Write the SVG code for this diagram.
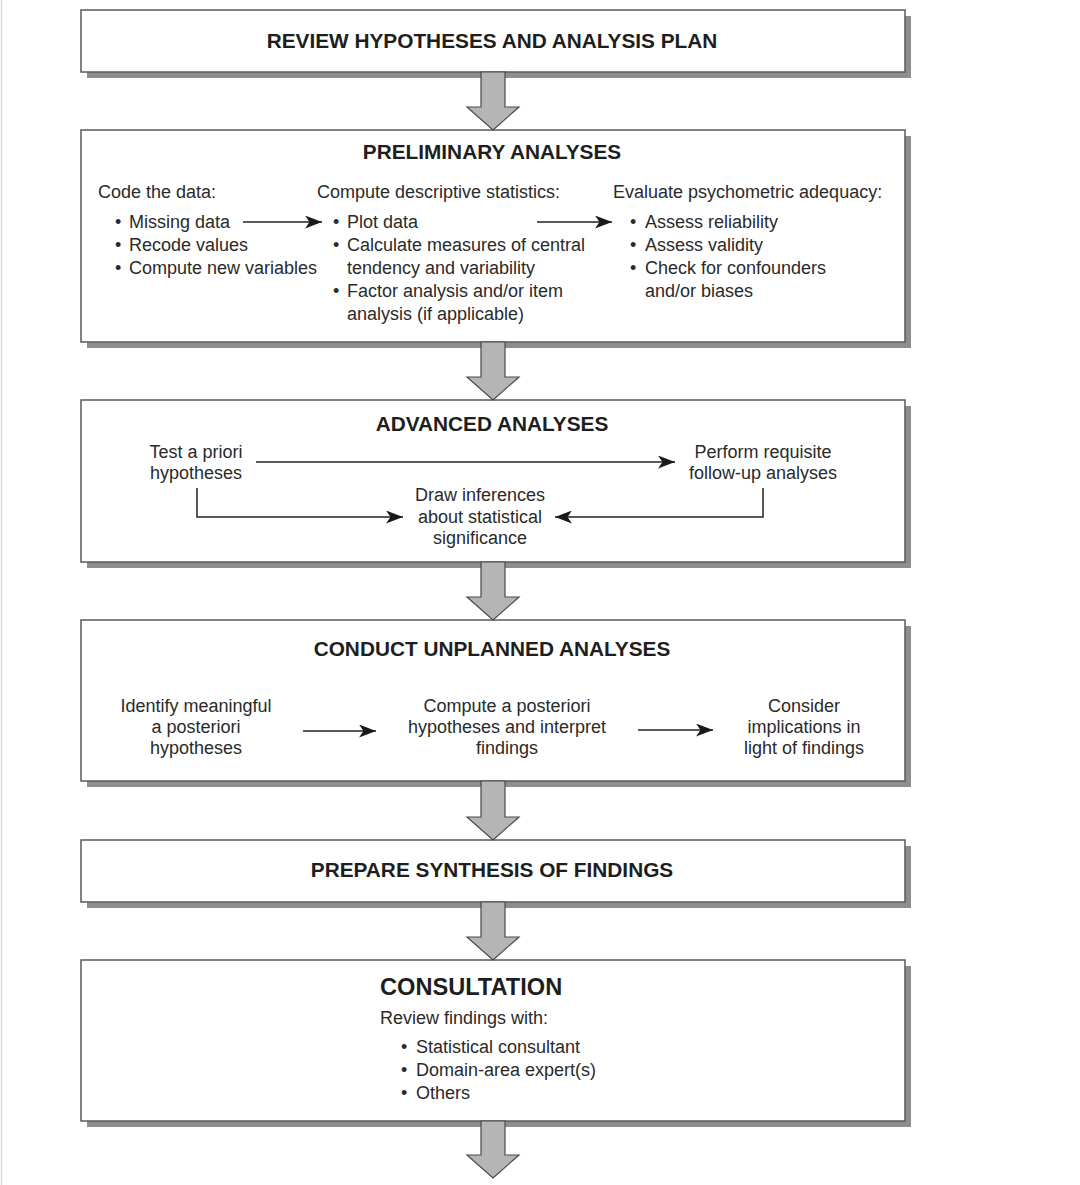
<svg xmlns="http://www.w3.org/2000/svg" width="1080" height="1185" viewBox="0 0 1080 1185">
<defs>
<style>
.shadow{fill:#8e8e8e}
.box{fill:#ffffff;stroke:#5a5a5a;stroke-width:1.5}
.title{font-family:"Liberation Sans",Arial,sans-serif;font-weight:bold;font-size:20.8px;fill:#1e1e1e;text-anchor:middle}
.t{font-family:"Liberation Sans",Arial,sans-serif;font-size:18px;fill:#2a2a2a}
.c{text-anchor:middle}
.line{fill:none;stroke:#222;stroke-width:1.5}
.block{fill:#b5b5b5;stroke:#4a4a4a;stroke-width:1.2;stroke-linejoin:miter}
</style>
<marker id="ah" markerUnits="userSpaceOnUse" markerWidth="18" markerHeight="13" refX="17" refY="6.5" orient="auto">
<path d="M0,0 L17,6.5 L0,13 L4.5,6.5 Z" fill="#1a1a1a"/>
</marker>
</defs>
<rect width="1080" height="1185" fill="#ffffff"/>
<line x1="1.5" y1="0" x2="1.5" y2="1185" stroke="#dcdcdc" stroke-width="1.5"/>

<g id="review">
<rect class="shadow" x="87" y="16" width="824" height="62"/>
<rect class="box" x="81" y="10" width="824" height="62"/>
<text class="title" x="492" y="48">REVIEW HYPOTHESES AND ANALYSIS PLAN</text>
</g>

<g id="preliminary">
<rect class="shadow" x="87" y="136" width="824" height="212"/>
<rect class="box" x="81" y="130" width="824" height="212"/>
<text class="title" x="492" y="159">PRELIMINARY ANALYSES</text>
<text class="t" x="98" y="198">Code the data:</text>
<text class="t" x="115" y="228">•</text><text class="t" x="129" y="228">Missing data</text>
<text class="t" x="115" y="251">•</text><text class="t" x="129" y="251">Recode values</text>
<text class="t" x="115" y="274">•</text><text class="t" x="129" y="274">Compute new variables</text>
<text class="t" x="317" y="198">Compute descriptive statistics:</text>
<text class="t" x="333" y="228">•</text><text class="t" x="347" y="228">Plot data</text>
<text class="t" x="333" y="251">•</text><text class="t" x="347" y="251">Calculate measures of central</text>
<text class="t" x="347" y="274">tendency and variability</text>
<text class="t" x="333" y="297">•</text><text class="t" x="347" y="297">Factor analysis and/or item</text>
<text class="t" x="347" y="320">analysis (if applicable)</text>
<text class="t" x="613" y="198">Evaluate psychometric adequacy:</text>
<text class="t" x="630" y="228">•</text><text class="t" x="645" y="228">Assess reliability</text>
<text class="t" x="630" y="251">•</text><text class="t" x="645" y="251">Assess validity</text>
<text class="t" x="630" y="274">•</text><text class="t" x="645" y="274">Check for confounders</text>
<text class="t" x="645" y="297">and/or biases</text>
</g>

<g id="advanced">
<rect class="shadow" x="87" y="406" width="824" height="162"/>
<rect class="box" x="81" y="400" width="824" height="162"/>
<text class="title" x="492" y="431">ADVANCED ANALYSES</text>
<text class="t c" x="196" y="458">Test a priori</text>
<text class="t c" x="196" y="479">hypotheses</text>
<text class="t c" x="763" y="458">Perform requisite</text>
<text class="t c" x="763" y="479">follow-up analyses</text>
<text class="t c" x="480" y="501">Draw inferences</text>
<text class="t c" x="480" y="523">about statistical</text>
<text class="t c" x="480" y="544">significance</text>
</g>

<g id="unplanned">
<rect class="shadow" x="87" y="626" width="824" height="161"/>
<rect class="box" x="81" y="620" width="824" height="161"/>
<text class="title" x="492" y="656">CONDUCT UNPLANNED ANALYSES</text>
<text class="t c" x="196" y="712">Identify meaningful</text>
<text class="t c" x="196" y="733">a posteriori</text>
<text class="t c" x="196" y="754">hypotheses</text>
<text class="t c" x="507" y="712">Compute a posteriori</text>
<text class="t c" x="507" y="733">hypotheses and interpret</text>
<text class="t c" x="507" y="754">findings</text>
<text class="t c" x="804" y="712">Consider</text>
<text class="t c" x="804" y="733">implications in</text>
<text class="t c" x="804" y="754">light of findings</text>
</g>

<g id="synthesis">
<rect class="shadow" x="87" y="846" width="824" height="62"/>
<rect class="box" x="81" y="840" width="824" height="62"/>
<text class="title" x="492" y="877">PREPARE SYNTHESIS OF FINDINGS</text>
</g>

<g id="consultation">
<rect class="shadow" x="87" y="966" width="824" height="161"/>
<rect class="box" x="81" y="960" width="824" height="161"/>
<text class="title" x="380" y="995" style="text-anchor:start;font-size:23.6px">CONSULTATION</text>
<text class="t" x="380" y="1024">Review findings with:</text>
<text class="t" x="401" y="1053">•</text><text class="t" x="416" y="1053">Statistical consultant</text>
<text class="t" x="401" y="1076">•</text><text class="t" x="416" y="1076">Domain-area expert(s)</text>
<text class="t" x="401" y="1099">•</text><text class="t" x="416" y="1099">Others</text>
</g>

<g id="connectors">
<polygon class="block" points="481,72 505,72 505,107 519,107 493,130 467,107 481,107"/>
<polygon class="block" points="481,342 505,342 505,377 519,377 493,400 467,377 481,377"/>
<polygon class="block" points="481,562 505,562 505,597 519,597 493,620 467,597 481,597"/>
<polygon class="block" points="481,781 505,781 505,817 519,817 493,840 467,817 481,817"/>
<polygon class="block" points="481,902 505,902 505,937 519,937 493,960 467,937 481,937"/>
<polygon class="block" points="481,1121 505,1121 505,1155 519,1155 493,1178 467,1155 481,1155"/>
<path class="line" d="M243,222 H322" marker-end="url(#ah)"/>
<path class="line" d="M537,222 H612" marker-end="url(#ah)"/>
<path class="line" d="M256,462 H675" marker-end="url(#ah)"/>
<path class="line" d="M197,488 V517 H403" marker-end="url(#ah)"/>
<path class="line" d="M763,488 V517 H555" marker-end="url(#ah)"/>
<path class="line" d="M303,731 H376" marker-end="url(#ah)"/>
<path class="line" d="M638,730 H713" marker-end="url(#ah)"/>
</g>
</svg>
